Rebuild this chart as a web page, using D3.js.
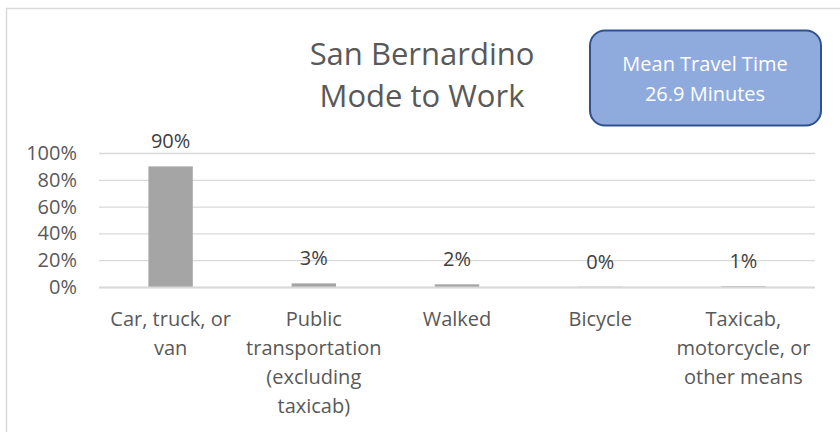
<!DOCTYPE html>
<meta charset="utf-8">
<script src="https://d3js.org/d3.v7.min.js"></script>
<style>
  body { margin: 0; background: #fff; }
  text { font-family: "Open Sans", sans-serif; fill: #595959; }
</style>
<div id="chart"></div>
<script>
// data
const categories = ["Car, truck, or van", "Public transportation (excluding taxicab)", "Walked", "Bicycle", "Taxicab, motorcycle, or other means"];
const categoryLines = [
  ["Car, truck, or", "van"],
  ["Public", "transportation", "(excluding", "taxicab)"],
  ["Walked"],
  ["Bicycle"],
  ["Taxicab,", "motorcycle, or", "other means"]
];
const shares = [0.90, 0.027, 0.02, 0.002, 0.006];
const yTicks = [0, 0.2, 0.4, 0.6, 0.8, 1.0];
const titleLines = ["San Bernardino", "Mode to Work"];
const boxLines = ["Mean Travel Time", "26.9 Minutes"];

const W = 840, H = 432;
const margin = {top: 153, right: 25, bottom: 145, left: 99};
const width = W - margin.left - margin.right,
      height = H - margin.top - margin.bottom;

const svg = d3.select("#chart").append("svg")
    .attr("width", W)
    .attr("height", H);

// chart frame
svg.append("rect")
    .attr("x", 6.5).attr("y", 8.5)
    .attr("width", 860).attr("height", 460)
    .attr("fill", "none")
    .attr("stroke", "#d9d9d9")
    .attr("stroke-width", 1.5);

// title
svg.append("text")
    .attr("text-anchor", "middle")
    .style("font-size", "31px")
  .selectAll("tspan").data(titleLines).join("tspan")
    .attr("x", 422)
    .attr("y", (d, i) => 65 + i * 42)
    .text(d => d);

// info box
const box = svg.append("g");
box.append("rect")
    .attr("x", 590).attr("y", 30.5)
    .attr("width", 231).attr("height", 95)
    .attr("rx", 15)
    .attr("fill", "#8faadc")
    .attr("stroke", "#2f528f")
    .attr("stroke-width", 2);
box.append("text")
    .attr("text-anchor", "middle")
    .style("font-size", "20px")
    .style("fill", "#fff")
  .selectAll("tspan").data(boxLines).join("tspan")
    .attr("x", 705)
    .attr("y", (d, i) => 71 + i * 30)
    .text(d => d);

const g = svg.append("g")
    .attr("transform", `translate(${margin.left},${margin.top})`);

const x = d3.scaleBand()
    .domain(categories)
    .range([0, width])
    .paddingInner(0.69)
    .paddingOuter(0.345);

const y = d3.scaleLinear()
    .domain([0, 1])
    .range([height, 0]);

// gridlines + y labels
const yAxis = g.append("g")
    .call(d3.axisLeft(y).tickValues(yTicks).tickFormat(d3.format(".0%")).tickSize(-width).tickPadding(22));
yAxis.select(".domain").remove();
yAxis.selectAll(".tick line")
    .attr("stroke", "#d9d9d9")
    .attr("stroke-width", 1.3);
yAxis.selectAll(".tick text")
    .style("font-size", "20px")
    .style("fill", "#595959")
    .style("font-family", "'Open Sans', sans-serif");

// bars
g.selectAll(".bar").data(shares).join("rect")
    .attr("class", "bar")
    .attr("x", (d, i) => x(categories[i]))
    .attr("width", x.bandwidth())
    .attr("y", d => y(d))
    .attr("height", d => height - y(d))
    .attr("fill", "#a5a5a5");

// x axis line
g.append("line")
    .attr("x1", 0).attr("x2", width)
    .attr("y1", height + 0.5).attr("y2", height + 0.5)
    .attr("stroke", "#d9d9d9")
    .attr("stroke-width", 2);

// data labels
g.selectAll(".lbl").data(shares).join("text")
    .attr("class", "lbl")
    .attr("text-anchor", "middle")
    .attr("x", (d, i) => x(categories[i]) + x.bandwidth() / 2)
    .attr("y", d => y(d) - 18)
    .style("font-size", "20px")
    .style("fill", "#404040")
    .text(d => d3.format(".0%")(d));

// category labels
const cat = g.selectAll(".cat").data(categories).join("text")
    .attr("class", "cat")
    .attr("text-anchor", "middle")
    .style("font-size", "20px");
cat.selectAll("tspan").data((d, i) => categoryLines[i].map(t => ({t, c: d})))
  .join("tspan")
    .attr("x", d => x(d.c) + x.bandwidth() / 2)
    .attr("y", (d, i) => height + 39 + i * 29)
    .text(d => d.t);
</script>
